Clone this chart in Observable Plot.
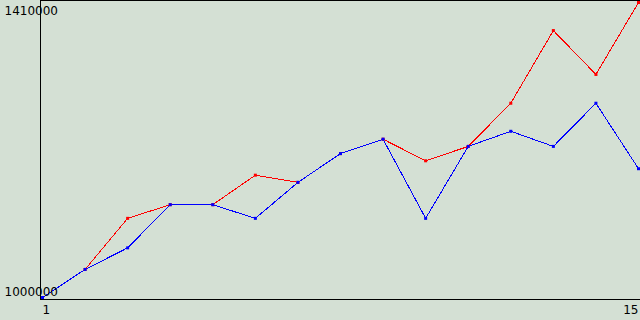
<!DOCTYPE html>
<html>
<head>
<meta charset="utf-8">
<script src="https://cdn.jsdelivr.net/npm/d3@7"></script>
<script src="https://cdn.jsdelivr.net/npm/@observablehq/plot@0.6"></script>
<style>
  html, body { margin: 0; padding: 0; background: #d4e0d4; }
</style>
</head>
<body>
<div id="chart"></div>
<script>
const xs = [1, 2, 3, 4, 5, 6, 7, 8, 9, 10, 11, 12, 13, 14, 15];
const redValues = [1000000, 1039000, 1110000, 1129000, 1129000, 1170000, 1160000, 1200000, 1220000, 1190000, 1210000, 1270000, 1371000, 1310000, 1410000];
const blueValues = [1000000, 1039000, 1069000, 1129000, 1129000, 1110000, 1160000, 1200000, 1220000, 1110000, 1210000, 1231000, 1210000, 1270000, 1179000];
const yMin = 1000000, yMax = 1410000;
const xFirst = 1, xLast = 15;

const red = xs.map((x, i) => ({x, y: redValues[i]}));
const blue = xs.map((x, i) => ({x, y: blueValues[i]}));

const font = {fontFamily: "DejaVu Sans", fontSize: 12, fill: "black"};

const chart = Plot.plot({
  width: 640,
  height: 320,
  marginLeft: 40,
  marginRight: 0,
  marginTop: 0,
  marginBottom: 21,
  insetLeft: 2,
  insetRight: 2,
  insetTop: 2,
  insetBottom: 2,
  style: {background: "#d4e0d4", fontFamily: "DejaVu Sans", fontSize: "12px", overflow: "visible"},
  x: {domain: [xFirst, xLast]},
  y: {domain: [yMin, yMax]},
  marks: [
    Plot.ruleX([xFirst], {dx: -2, stroke: "black", strokeWidth: 1, shapeRendering: "crispEdges"}),
    Plot.ruleY([yMax], {dy: -2, stroke: "black", strokeWidth: 1, shapeRendering: "crispEdges"}),
    Plot.ruleY([yMin], {dy: 2, stroke: "black", strokeWidth: 1, shapeRendering: "crispEdges"}),
    Plot.line(red, {x: "x", y: "y", stroke: "#ff0000", strokeWidth: 1, shapeRendering: "crispEdges"}),
    Plot.line(blue, {x: "x", y: "y", stroke: "#0000ff", strokeWidth: 1, shapeRendering: "crispEdges"}),
    Plot.dot(red, {x: "x", y: "y", symbol: "square", r: 1.7, fill: "#ff0000", stroke: null}),
    Plot.dot(blue, {x: "x", y: "y", symbol: "square", r: 1.7, fill: "#0000ff", stroke: null}),
    Plot.axisY([yMax], {tickSize: 0, tickPadding: 0, textAnchor: "start", dx: -36, dy: 9, lineAnchor: "middle", tickFormat: d => String(d), ...font, label: null}),
    Plot.axisY([yMin], {tickSize: 0, tickPadding: 0, textAnchor: "start", dx: -36, dy: -5, lineAnchor: "middle", tickFormat: d => String(d), ...font, label: null}),
    Plot.axisX([xFirst], {tickSize: 0, tickPadding: 6, textAnchor: "start", dx: 0, tickFormat: d => String(d), ...font, label: null}),
    Plot.axisX([xLast], {tickSize: 0, tickPadding: 6, textAnchor: "end", dx: 0, tickFormat: d => String(d), ...font, label: null})
  ]
});
document.getElementById("chart").appendChild(chart);
</script>
</body>
</html>
